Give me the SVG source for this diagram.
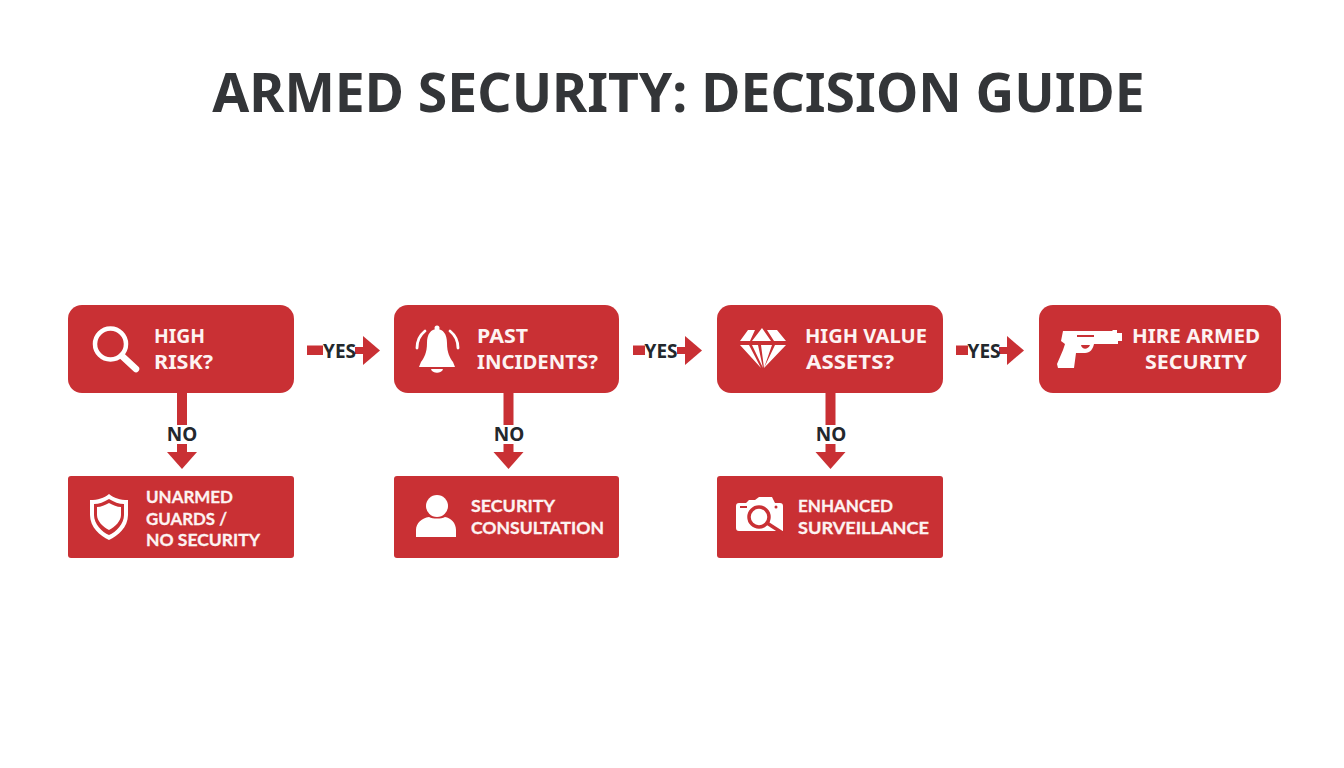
<svg xmlns="http://www.w3.org/2000/svg" width="1344" height="768" viewBox="0 0 1344 768">
<style>
text{font-family:"Noto Sans","Open Sans","Liberation Sans",sans-serif;font-weight:700}
.box{fill:#c93034}
.t{fill:#fdf3f2;font-size:20px}
.s{fill:#fdf3f2;font-size:17.800px;font-family:Lato,"Noto Sans",sans-serif;stroke:#fdf3f2;stroke-width:.3px}
.lab{fill:#23282d;font-size:19px;text-anchor:middle}
.title{fill:#333538;font-size:53.500px;text-anchor:middle}
.c{fill:#c93034}
.iw{fill:#fff}
.il{fill:none;stroke:#fff;stroke-linecap:round;stroke-linejoin:round}
</style>
<defs>
<polygon id="head-r" points="0,-14.500 17,0 0,14.500"/>
<g id="no"><rect x="-5" y="0" width="10" height="32"/><rect x="-5" y="51" width="10" height="10"/><polygon points="-15,59 15,59 0,76"/></g>
</defs>
<rect width="1344" height="768" fill="#fff"/>
<text id="title" class="title" x="678.500" y="112">ARMED SECURITY: DECISION GUIDE</text>
<g id="connectors" class="c">
<rect x="307" y="345.500" width="16" height="9.500"/><rect x="355" y="347" width="9" height="7"/><use href="#head-r" x="363" y="350.500"/>
<rect x="633" y="345.500" width="12" height="9.500"/><rect x="677" y="347" width="9" height="7"/><use href="#head-r" x="685" y="350.500"/>
<rect x="956" y="345.500" width="12" height="9.500"/><rect x="999" y="347" width="9" height="7"/><use href="#head-r" x="1007" y="350.500"/>
<use href="#no" x="182" y="393"/>
<use href="#no" x="508.500" y="393"/>
<use href="#no" x="830.500" y="393"/>
</g>
<g id="connector-labels">
<text class="lab" x="339.500" y="358">YES</text>
<text class="lab" x="661" y="358">YES</text>
<text class="lab" x="984" y="358">YES</text>
<text class="lab" x="182" y="441">NO</text>
<text class="lab" x="509" y="441">NO</text>
<text class="lab" x="831" y="441">NO</text>
</g>
<g id="node-high-risk">
<rect class="box" x="68" y="305" width="226" height="88" rx="14"/>
<circle class="il" cx="110.500" cy="344" r="15.500" stroke-width="4.500"/>
<line class="il" x1="122" y1="356" x2="136" y2="369" stroke-width="6.500"/>
<text class="t" x="154" y="343" textLength="51" lengthAdjust="spacingAndGlyphs">HIGH</text>
<text class="t" x="154" y="369" textLength="59" lengthAdjust="spacingAndGlyphs">RISK?</text>
</g>
<g id="node-past-incidents">
<rect class="box" x="394" y="305" width="225" height="88" rx="14"/>
<path class="iw" d="M437 329C443 329 447 334 447 343C447 353 450 358 453 362L455 367H419L421 362C424 358 427 353 427 343C427 334 431 329 437 329Z"/>
<path class="iw" d="M431 369H443C442 374 432 374 431 369Z"/>
<circle class="iw" cx="437" cy="328" r="2.500"/>
<path class="il" stroke-width="2.800" d="M417 348C417 341 420 335 425 331M458 348C458 341 455 335 450 331"/>
<text class="t" x="477" y="343" textLength="51" lengthAdjust="spacingAndGlyphs">PAST</text>
<text class="t" x="477" y="369" textLength="121" lengthAdjust="spacingAndGlyphs">INCIDENTS?</text>
</g>
<g id="node-high-value-assets">
<rect class="box" x="717" y="305" width="226" height="88" rx="14"/>
<path class="iw" d="M740 341L748 330H755L750 341ZM752 341L762 328L771 341ZM774 341L767 330H777L786 341ZM740 345H749L761 368ZM752 345H758L763 368ZM761 345H772L764 368ZM775 345H786L764 368Z"/>
<text class="t" x="805" y="343" textLength="122" lengthAdjust="spacingAndGlyphs">HIGH VALUE</text>
<text class="t" x="806" y="369" textLength="88" lengthAdjust="spacingAndGlyphs">ASSETS?</text>
</g>
<g id="node-hire-armed-security">
<rect class="box" x="1039" y="305" width="242" height="88" rx="14"/>
<path class="iw" fill-rule="evenodd" d="M1063 331H1112L1113 330H1117V333H1122V341H1118V344H1094C1093 349 1090 353 1085 353H1076L1074 368H1058L1057 364L1063 350L1065 344L1061 341ZM1077 335V337H1094V335ZM1081 345C1082 350 1088 350 1090 345Z"/>
<text class="t" x="1132" y="343" textLength="128" lengthAdjust="spacingAndGlyphs">HIRE ARMED</text>
<text class="t" x="1145" y="369" textLength="102" lengthAdjust="spacingAndGlyphs">SECURITY</text>
</g>
<g id="node-unarmed">
<rect class="box" x="68" y="476" width="226" height="82" rx="3"/>
<path class="iw" fill-rule="evenodd" d="M109 494C114 498 120 500 128 500V515C128 527 118 536 109 540C100 536 90 527 90 515V500C98 500 104 498 109 494ZM109 499C104 502 99 504 94 504V515C94 524 102 532 109 535C116 532 124 524 124 515V504C119 504 114 502 109 499Z"/>
<path class="iw" d="M109 503V530C103 527 97 521 97 515V507C101 507 105 505 109 503ZM109 503C113 505 117 507 121 507V515C121 521 115 527 109 530Z"/>
<text class="s" x="146" y="503" textLength="87" lengthAdjust="spacingAndGlyphs">UNARMED</text>
<text class="s" x="146" y="525" textLength="81" lengthAdjust="spacingAndGlyphs">GUARDS /</text>
<text class="s" x="146" y="546" textLength="114" lengthAdjust="spacingAndGlyphs">NO SECURITY</text>
</g>
<g id="node-security-consultation">
<rect class="box" x="394" y="476" width="225" height="82" rx="3"/>
<circle class="iw" cx="437" cy="506" r="11"/>
<path class="iw" d="M416 537V530C416 523 422 518 429 517C433 519 441 519 445 517C451 518 456 523 456 530V537Z"/>
<text class="s" x="471" y="512" textLength="84" lengthAdjust="spacingAndGlyphs">SECURITY</text>
<text class="s" x="471" y="534" textLength="133" lengthAdjust="spacingAndGlyphs">CONSULTATION</text>
</g>
<g id="node-enhanced-surveillance">
<rect class="box" x="717" y="476" width="226" height="82" rx="3"/>
<path class="iw" d="M739 503H746L749 500H755L759 497H772L775 503H780C782 503 783 504 783 506V531H739C737 531 736 530 736 528V506C736 504 737 503 739 503Z"/>
<circle cx="759" cy="517" r="10" fill="none" stroke="#c93034" stroke-width="3.500"/>
<line x1="767" y1="523" x2="784" y2="534" stroke="#c93034" stroke-width="3.500"/>
<rect x="740" y="506" width="7" height="2" fill="#c93034"/>
<circle cx="776" cy="507" r="1.500" fill="#c93034"/>
<text class="s" x="798" y="512" textLength="95" lengthAdjust="spacingAndGlyphs">ENHANCED</text>
<text class="s" x="798" y="534" textLength="131" lengthAdjust="spacingAndGlyphs">SURVEILLANCE</text>
</g>
</svg>
